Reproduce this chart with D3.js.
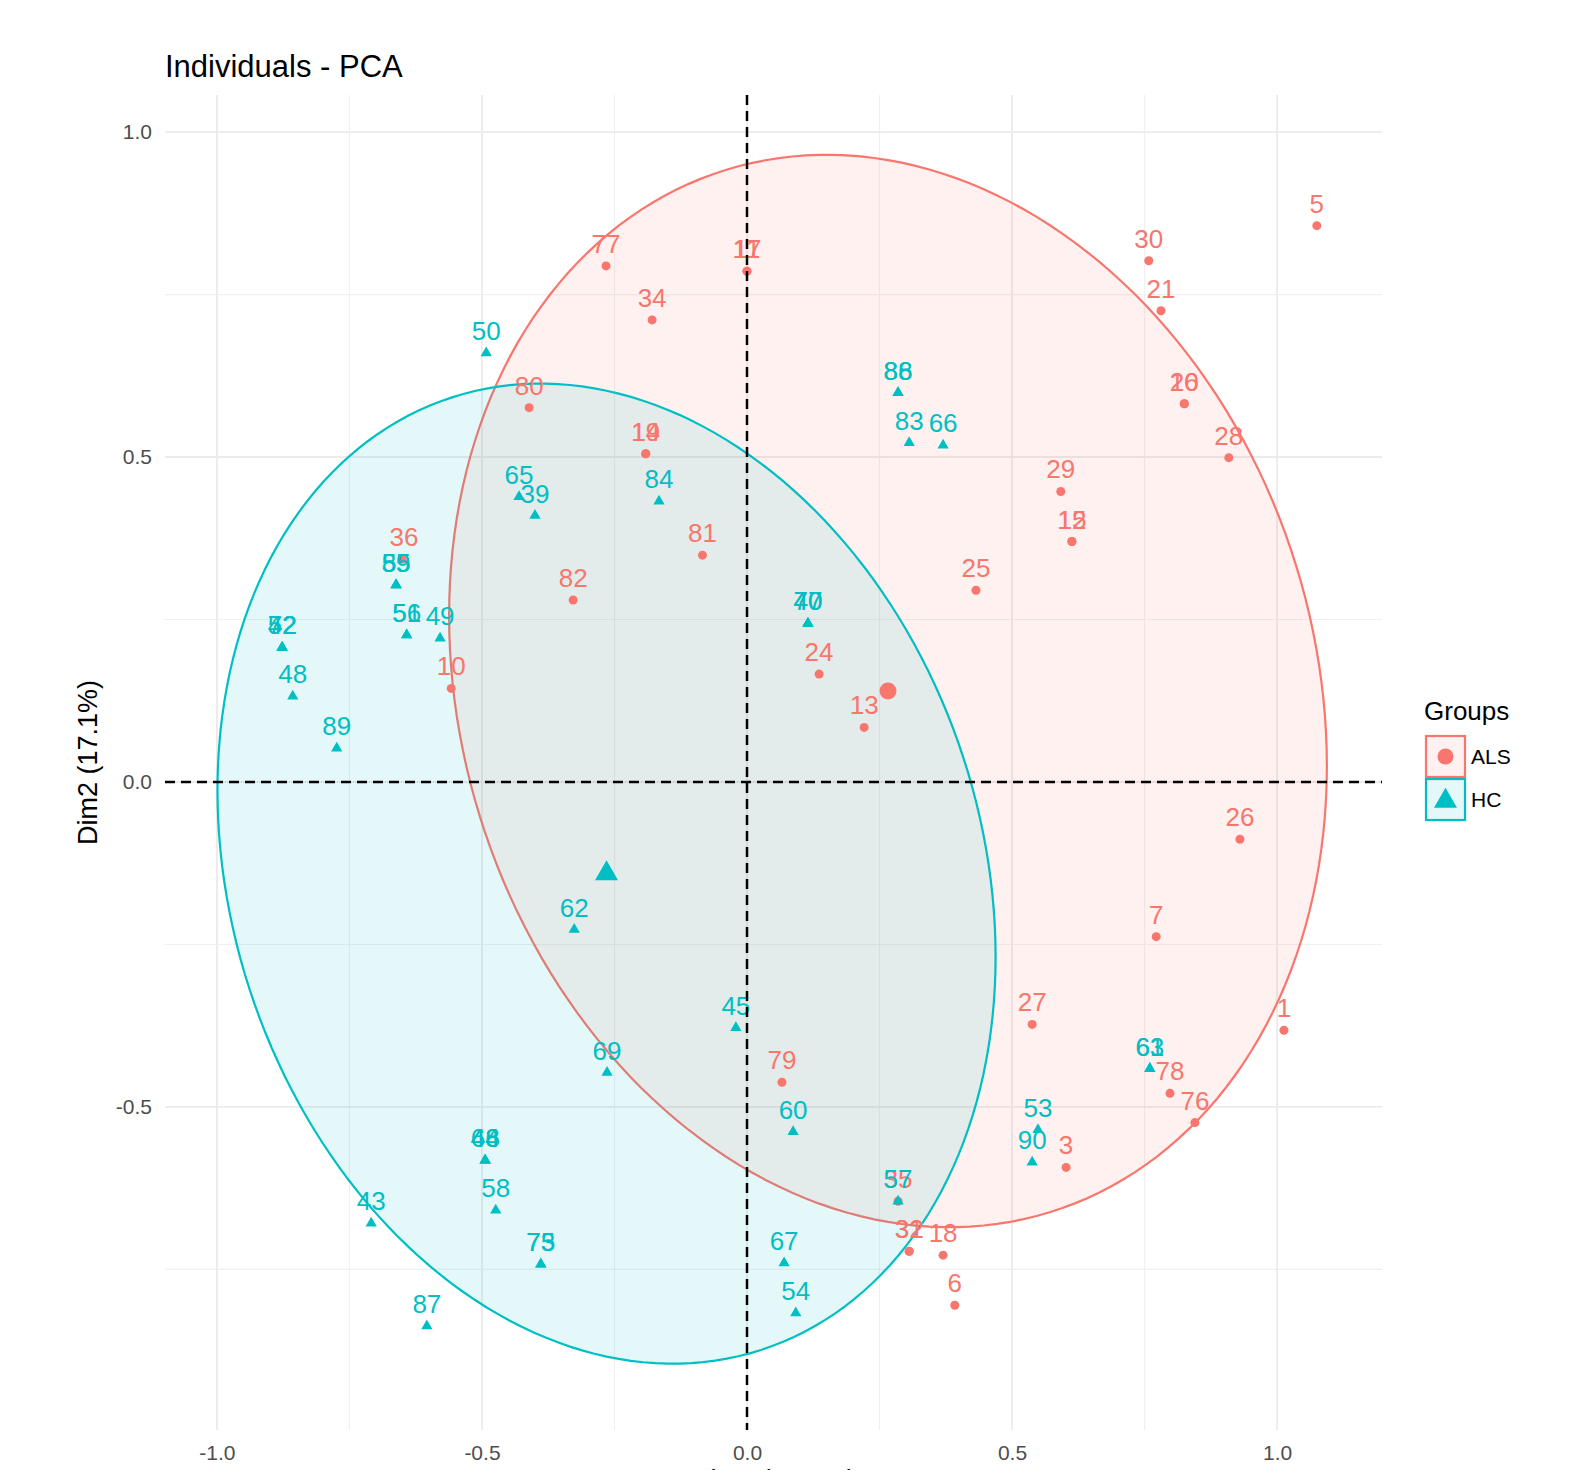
<!DOCTYPE html>
<html>
<head>
<meta charset="utf-8">
<script src="https://cdn.jsdelivr.net/npm/d3@7"></script>
<style>
  html, body { margin: 0; padding: 0; background: #ffffff; }
  svg { display: block; font-family: "Liberation Sans", Arial, Helvetica, sans-serif; }
</style>
</head>
<body>
<div id="chart"></div>
<script>
// Individuals - PCA, two groups with confidence ellipses

const groups = ["ALS", "HC"];
const groupColors = ["#F8766D", "#00BFC4"];

// ALS individuals (repeated coordinates = overlapping labels)
const alsIds = ["5", "30", "21", "20", "16", "28", "29", "12", "15", "25",
  "77", "17", "11", "34", "80", "19", "14", "81", "82", "36",
  "10", "24", "13", "26", "7", "1", "27", "78", "76", "79",
  "3", "35", "31", "32", "18", "6"];
const alsDim1 = [1.075, 0.758, 0.781, 0.825, 0.825, 0.909, 0.592, 0.613, 0.613, 0.432,
  -0.266, 0.0, 0.0, -0.179, -0.411, -0.191, -0.191, -0.084, -0.328, -0.647,
  -0.558, 0.136, 0.221, 0.930, 0.772, 1.013, 0.538, 0.798, 0.845, 0.066,
  0.602, 0.285, 0.306, 0.306, 0.370, 0.392];
const alsDim2 = [0.856, 0.802, 0.725, 0.582, 0.582, 0.499, 0.447, 0.370, 0.370, 0.295,
  0.794, 0.786, 0.786, 0.711, 0.576, 0.505, 0.505, 0.349, 0.280, 0.343,
  0.144, 0.166, 0.084, -0.088, -0.238, -0.382, -0.373, -0.479, -0.524, -0.462,
  -0.593, -0.645, -0.722, -0.722, -0.728, -0.805];

// HC individuals
const hcIds = ["50", "65", "39", "84", "86", "88", "83", "66", "40", "47",
  "70", "55", "59", "85", "51", "56", "49", "42", "52", "72",
  "48", "89", "62", "45", "69", "60", "67", "54", "53", "90",
  "61", "63", "57", "44", "46", "68", "58", "43", "73", "75", "87"];
const hcDim1 = [-0.492, -0.430, -0.400, -0.166, 0.285, 0.285, 0.306, 0.370, 0.115, 0.115,
  0.115, -0.662, -0.662, -0.662, -0.642, -0.642, -0.579, -0.877, -0.877, -0.877,
  -0.857, -0.774, -0.326, -0.021, -0.264, 0.087, 0.070, 0.092, 0.549, 0.538,
  0.760, 0.760, 0.285, -0.494, -0.494, -0.494, -0.474, -0.709, -0.389, -0.389, -0.604];
const hcDim2 = [0.660, 0.439, 0.410, 0.432, 0.599, 0.599, 0.522, 0.518, 0.244, 0.244,
  0.244, 0.303, 0.303, 0.303, 0.226, 0.226, 0.221, 0.207, 0.207, 0.207,
  0.132, 0.052, -0.227, -0.378, -0.447, -0.538, -0.740, -0.817, -0.535, -0.585,
  -0.441, -0.441, -0.645, -0.582, -0.582, -0.582, -0.659, -0.679, -0.742, -0.742, -0.837];

// group means and ellipse spread (Dim1 / Dim2 units), ALS then HC
const centroidDim1 = [0.266, -0.265];
const centroidDim2 = [0.140, -0.141];
const ellipseDim1 = [0.828, 0.734];
const ellipseDim2 = [0.825, 0.754];
const ellipseCor = [-0.14, -0.17];

const xTicks = [-1.0, -0.5, 0.0, 0.5, 1.0];
const yTicks = [-0.5, 0.0, 0.5, 1.0];
const xMinor = [-0.75, -0.25, 0.25, 0.75];
const yMinor = [-0.75, -0.25, 0.25, 0.75];

const xTitle = "Dim1 (41.6%)";
const yTitle = "Dim2 (17.1%)";

function drawChart() {
    const width = 1572, height = 1470;
    const panel = { left: 165, right: 1382, top: 95, bottom: 1430 };

    const svg = d3.select("#chart").append("svg")
        .attr("width", width)
        .attr("height", height);

    svg.append("rect").attr("width", width).attr("height", height).attr("fill", "#ffffff");

    const x = d3.scaleLinear().domain([-1.098, 1.198]).range([panel.left, panel.right]);
    const y = d3.scaleLinear().domain([-0.997, 1.057]).range([panel.bottom, panel.top]);

    // grid
    const grid = svg.append("g");
    grid.selectAll(".vminor").data(xMinor).enter().append("line")
        .attr("x1", d => x(d)).attr("x2", d => x(d))
        .attr("y1", panel.top).attr("y2", panel.bottom)
        .attr("stroke", "#f0f0f0").attr("stroke-width", 1.2);
    grid.selectAll(".hminor").data(yMinor).enter().append("line")
        .attr("y1", d => y(d)).attr("y2", d => y(d))
        .attr("x1", panel.left).attr("x2", panel.right)
        .attr("stroke", "#f0f0f0").attr("stroke-width", 1.2);
    grid.selectAll(".vmajor").data(xTicks).enter().append("line")
        .attr("x1", d => x(d)).attr("x2", d => x(d))
        .attr("y1", panel.top).attr("y2", panel.bottom)
        .attr("stroke", "#ebebeb").attr("stroke-width", 1.8);
    grid.selectAll(".hmajor").data(yTicks).enter().append("line")
        .attr("y1", d => y(d)).attr("y2", d => y(d))
        .attr("x1", panel.left).attr("x2", panel.right)
        .attr("stroke", "#ebebeb").attr("stroke-width", 1.8);

    // ellipses
    const line = d3.line().x(d => x(d[0])).y(d => y(d[1])).curve(d3.curveLinearClosed);
    groups.forEach((g, i) => {
        const pts = [];
        const r = Math.sqrt(1 - ellipseCor[i] * ellipseCor[i]);
        for (let k = 0; k < 200; k++) {
            const t = 2 * Math.PI * k / 200;
            pts.push([
                centroidDim1[i] + ellipseDim1[i] * Math.cos(t),
                centroidDim2[i] + ellipseDim2[i] * (ellipseCor[i] * Math.cos(t) + r * Math.sin(t))
            ]);
        }
        svg.append("path")
            .attr("d", line(pts))
            .attr("fill", groupColors[i]).attr("fill-opacity", 0.1)
            .attr("stroke", groupColors[i]).attr("stroke-width", 2.2);
    });

    const tri = d3.symbol().type(d3.symbolTriangle);

    // points
    const als = alsIds.map((id, i) => ({ id, d1: alsDim1[i], d2: alsDim2[i] }));
    const hc = hcIds.map((id, i) => ({ id, d1: hcDim1[i], d2: hcDim2[i] }));

    svg.append("g").selectAll("circle").data(als).enter().append("circle")
        .attr("cx", d => x(d.d1)).attr("cy", d => y(d.d2))
        .attr("r", 4.5).attr("fill", groupColors[0]);
    svg.append("g").selectAll("path").data(hc).enter().append("path")
        .attr("d", tri.size(55)())
        .attr("transform", d => `translate(${x(d.d1)},${y(d.d2)})`)
        .attr("fill", groupColors[1]);

    // labels
    const labels = svg.append("g").attr("font-size", 26).attr("text-anchor", "middle");
    labels.selectAll(".la").data(als).enter().append("text")
        .attr("x", d => x(d.d1)).attr("y", d => y(d.d2) - 13)
        .attr("fill", groupColors[0]).text(d => d.id);
    labels.selectAll(".lh").data(hc).enter().append("text")
        .attr("x", d => x(d.d1)).attr("y", d => y(d.d2) - 13)
        .attr("fill", groupColors[1]).text(d => d.id);

    // group centroids
    svg.append("circle")
        .attr("cx", x(centroidDim1[0])).attr("cy", y(centroidDim2[0]))
        .attr("r", 8.5).attr("fill", groupColors[0]);
    svg.append("path")
        .attr("d", d3.symbol().type(d3.symbolTriangle).size(230)())
        .attr("transform", `translate(${x(centroidDim1[1])},${y(centroidDim2[1])})`)
        .attr("fill", groupColors[1]);

    // dashed axes lines through origin
    svg.append("line")
        .attr("x1", x(0)).attr("x2", x(0)).attr("y1", panel.top).attr("y2", panel.bottom)
        .attr("stroke", "#000").attr("stroke-width", 2.5).attr("stroke-dasharray", "10,6");
    svg.append("line")
        .attr("y1", y(0)).attr("y2", y(0)).attr("x1", panel.left).attr("x2", panel.right)
        .attr("stroke", "#000").attr("stroke-width", 2.5).attr("stroke-dasharray", "10,6");

    // axes
    const fmt = d => d.toFixed(1);
    const xAxis = svg.append("g")
        .attr("transform", `translate(0,${panel.bottom})`)
        .call(d3.axisBottom(x).tickValues(xTicks).tickFormat(fmt).tickSize(0).tickPadding(15));
    const yAxis = svg.append("g")
        .attr("transform", `translate(${panel.left},0)`)
        .call(d3.axisLeft(y).tickValues(yTicks).tickFormat(fmt).tickSize(0).tickPadding(13));
    [xAxis, yAxis].forEach(a => {
        a.select(".domain").remove();
        a.selectAll("text")
            .attr("font-size", 21)
            .attr("fill", "#4d4d4d")
            .attr("font-family", "'Liberation Sans', Arial, sans-serif");
    });

    // titles
    svg.append("text")
        .attr("x", panel.left).attr("y", 77)
        .attr("font-size", 31).attr("fill", "#000")
        .text("Individuals - PCA");
    svg.append("text")
        .attr("transform", `translate(97,${(panel.top + panel.bottom) / 2}) rotate(-90)`)
        .attr("text-anchor", "middle")
        .attr("font-size", 27).attr("fill", "#000")
        .text(yTitle);
    // x title sits at the bottom edge, mostly cut off as in the source picture
    svg.append("text")
        .attr("x", (panel.left + panel.right) / 2).attr("y", 1489)
        .attr("text-anchor", "middle")
        .attr("font-size", 27).attr("fill", "#000")
        .text(xTitle);

    // legend
    const legend = svg.append("g").attr("transform", "translate(1424,0)");
    legend.append("text")
        .attr("x", 0).attr("y", 720)
        .attr("font-size", 26).attr("fill", "#000")
        .text("Groups");
    groups.forEach((g, i) => {
        const top = 736 + i * 43;
        legend.append("rect")
            .attr("x", 2).attr("y", top).attr("width", 39).attr("height", 41)
            .attr("fill", groupColors[i]).attr("fill-opacity", 0.1)
            .attr("stroke", groupColors[i]).attr("stroke-width", 2.2);
        if (i === 0) {
            legend.append("circle")
                .attr("cx", 21.5).attr("cy", top + 20.5).attr("r", 8)
                .attr("fill", groupColors[i]);
        } else {
            legend.append("path")
                .attr("d", d3.symbol().type(d3.symbolTriangle).size(230)())
                .attr("transform", `translate(21.5,${top + 22})`)
                .attr("fill", groupColors[i]);
        }
        legend.append("text")
            .attr("x", 47).attr("y", top + 20.5).attr("dy", "0.36em")
            .attr("font-size", 21).attr("fill", "#000")
            .text(g);
    });
}

document.addEventListener('DOMContentLoaded', drawChart);
</script>
</body>
</html>
